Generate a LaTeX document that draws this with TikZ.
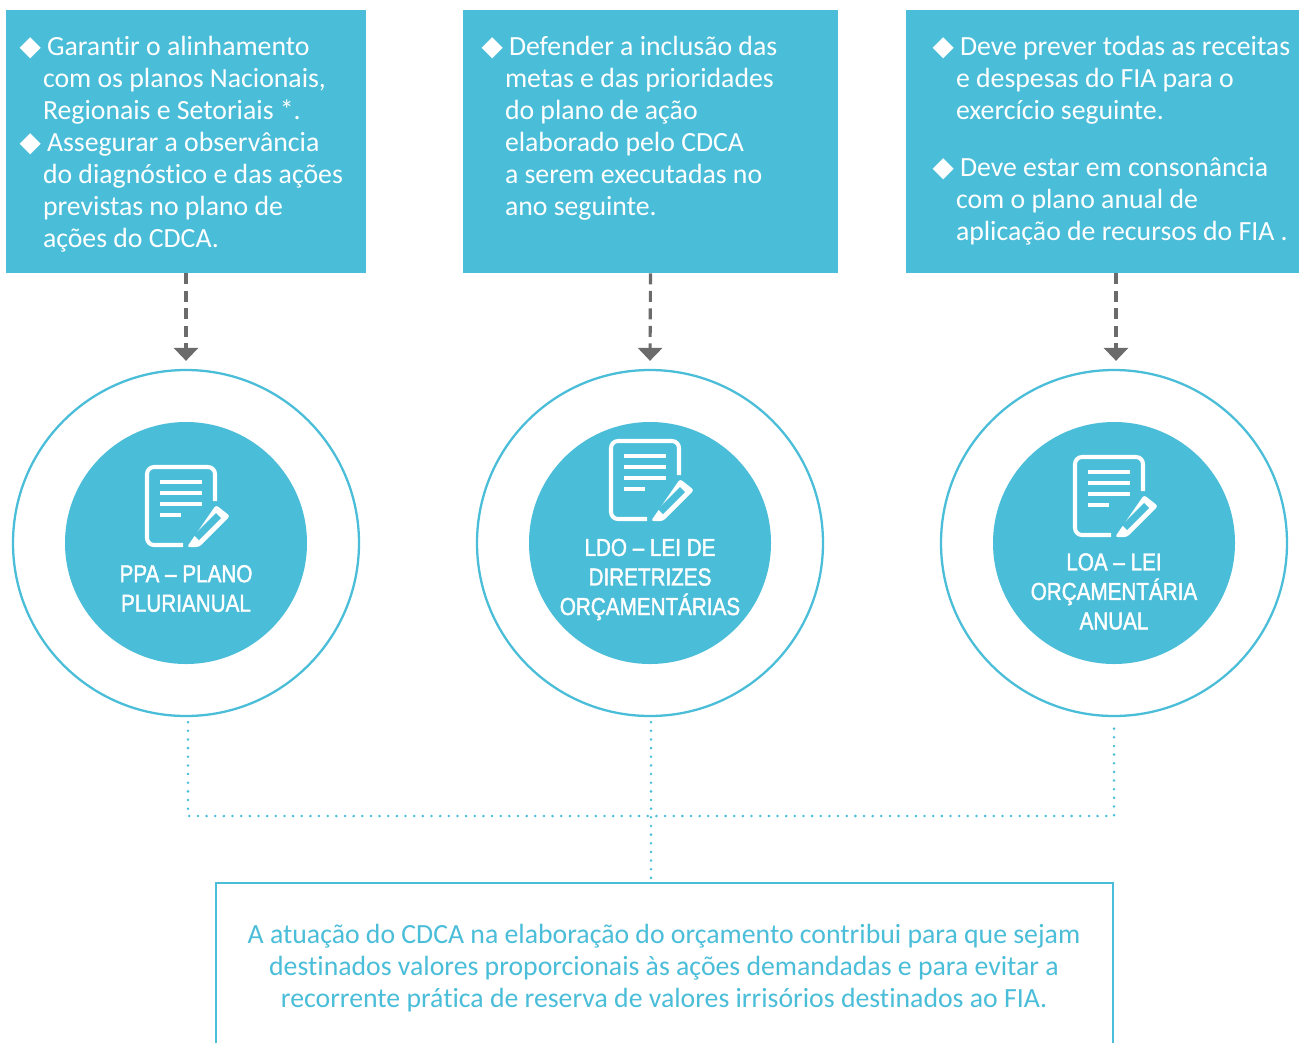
\documentclass[tikz,border=0pt]{standalone}
\usepackage{fontspec}
\setmainfont{Carlito}[Ligatures=NoCommon]
\newfontfamily\symbfont{DejaVu Sans}
\newfontfamily\labelfont[FakeStretch=0.84,FakeBold=1.6]{Liberation Sans}
\usetikzlibrary{calc}
\usetikzlibrary{arrows.meta}
\definecolor{fiablue}{HTML}{4ABDD8}
\definecolor{linkgray}{HTML}{6B6B6B}
\newcommand{\itemmark}{\hspace*{0.08cm}\llap{{\symbfont ◆}\hspace{0.12cm}}}
\tikzset{
    infobox/.style = {rectangle,fill=fiablue,minimum height=5.26cm,inner sep=0pt},
    infotext/.style = {anchor=north west,align=left,text=white,inner sep=0pt,font=\fontsize{15.8}{18.2}\selectfont},
    outercirc/.style = {circle,draw=fiablue,line width=1.3pt,fill=white,minimum size=6.92cm,inner sep=0pt},
    innercirc/.style = {circle,fill=fiablue,minimum size=4.84cm,inner sep=0pt},
    circlabel/.style = {align=center,text=white,inner sep=0pt,font=\labelfont\fontsize{14}{16.8}\selectfont},
    notetext/.style = {align=center,text=fiablue,inner sep=0pt,font=\fontsize{15.8}{18.2}\selectfont},
    dashlink/.style = {draw=linkgray,line width=1.8pt,dash pattern=on 0.22cm off 0.13cm,-{Triangle[width=0.48cm,length=0.26cm]}},
    dotlink/.style = {draw=fiablue,line width=1.6pt,line cap=round,dash pattern=on 0pt off 0.173cm},
    docicon/.pic = {
        \draw[white,line width=2.3pt,rounded corners=4pt] (0.72,-1.56) -- (0,-1.56) -- (0,0) -- (1.36,0) -- (1.36,-0.68);
        \foreach \yline in {-0.3,-0.52,-0.74}
            \draw[white,line width=2pt] (0.26,\yline) -- (1.1,\yline);
        \draw[white,line width=2pt] (0.26,-0.96) -- (0.68,-0.96);
        \fill[white,rounded corners=1.5pt] (0.8,-1.6) -- (1.38,-0.76) -- (1.66,-0.98) -- (1.04,-1.6) -- cycle;
        \fill[fiablue] (0.94,-1.36) -- (1.38,-0.92) -- (1.48,-1.02) -- (1.04,-1.46) -- cycle;
    }}
\begin{document}
\begin{tikzpicture}
    \useasboundingbox (0,0) rectangle (25.98,-20.86);
    \path (3.72,-2.83) node[infobox,minimum width=7.2cm] (boxPPA) {}
        (13.01,-2.83) node[infobox,minimum width=7.5cm] (boxLDO) {}
        (22.05,-2.83) node[infobox,minimum width=7.86cm] (boxLOA) {}
        (3.72,-10.86) node[outercirc] (circPPA) {}
        + (0,0) node[innercirc] (discPPA) {}
        + (0,-0.91) node[circlabel] (lblPPA) {PPA – PLANO\\PLURIANUAL}
        (13,-10.86) node[outercirc] (circLDO) {}
        + (0,0) node[innercirc] (discLDO) {}
        + (0,-0.73) node[circlabel] (lblLDO) {LDO – LEI DE\\DIRETRIZES\\ORÇAMENTÁRIAS}
        (22.28,-10.86) node[outercirc] (circLOA) {}
        + (0,0) node[innercirc] (discLOA) {}
        + (0,-0.97) node[circlabel] (lblLOA) {LOA – LEI\\ORÇAMENTÁRIA\\ANUAL}
        (13.28,-19.36) node[notetext] (noteText) {A atuação do CDCA na elaboração do orçamento contribui para que sejam\\destinados valores proporcionais às ações demandadas e para evitar a\\recorrente prática de reserva de valores irrisórios destinados ao FIA.};
    \path ($(boxPPA.north west)+(0.74,-0.52)$) node[infotext] (txtPPA) {\itemmark Garantir o alinhamento\\com os planos Nacionais,\\Regionais e Setoriais *.\\\itemmark Assegurar a observância\\do diagnóstico e das ações\\previstas no plano de\\ações do CDCA.};
    \path ($(boxLDO.north west)+(0.84,-0.52)$) node[infotext] (txtLDO) {\itemmark Defender a inclusão das\\metas e das prioridades\\do plano de ação\\elaborado pelo CDCA\\a serem executadas no\\ano seguinte.};
    \path ($(boxLOA.north west)+(1,-0.52)$) node[infotext] (txtLOA) {\itemmark Deve prever todas as receitas\\e despesas do FIA para o\\exercício seguinte.\\[0.5cm]\itemmark Deve estar em consonância\\com o plano anual de\\aplicação de recursos do FIA .};
    \path (2.94,-9.34) pic {docicon}
        (12.22,-8.82) pic {docicon}
        (21.5,-9.14) pic {docicon};
    \draw[dashlink] (boxPPA.south) to ($(circPPA.north)+(0,0.16)$);
    \draw[dashlink] (boxLDO.south) to ($(circLDO.north)+(0,0.16)$);
    \draw[dashlink] ($(circLOA.north |- boxLOA.south)+(0.04,0)$) to ($(circLOA.north)+(0.04,0.16)$);
    \coordinate (busLeft) at (3.76,-16.32);
    \coordinate (busRight) at (22.28,-16.32);
    \coordinate (frameTop) at (13.02,-17.66);
    \coordinate (frameNW) at (4.32,-17.66);
    \coordinate (frameNE) at (22.26,-17.66);
    \draw[dotlink] ($(circPPA.south)+(0.04,-0.1)$) -- (busLeft) -- (busRight) -- ($(circLOA.south)+(0,-0.1)$);
    \draw[dotlink] ($(circLDO.south)+(0.02,-0.1)$) -- (frameTop);
    \draw[fiablue,line width=1.5pt] (4.32,-20.86) -- (frameNW) -- (frameNE) -- (22.26,-20.86);
\end{tikzpicture}
\end{document}
